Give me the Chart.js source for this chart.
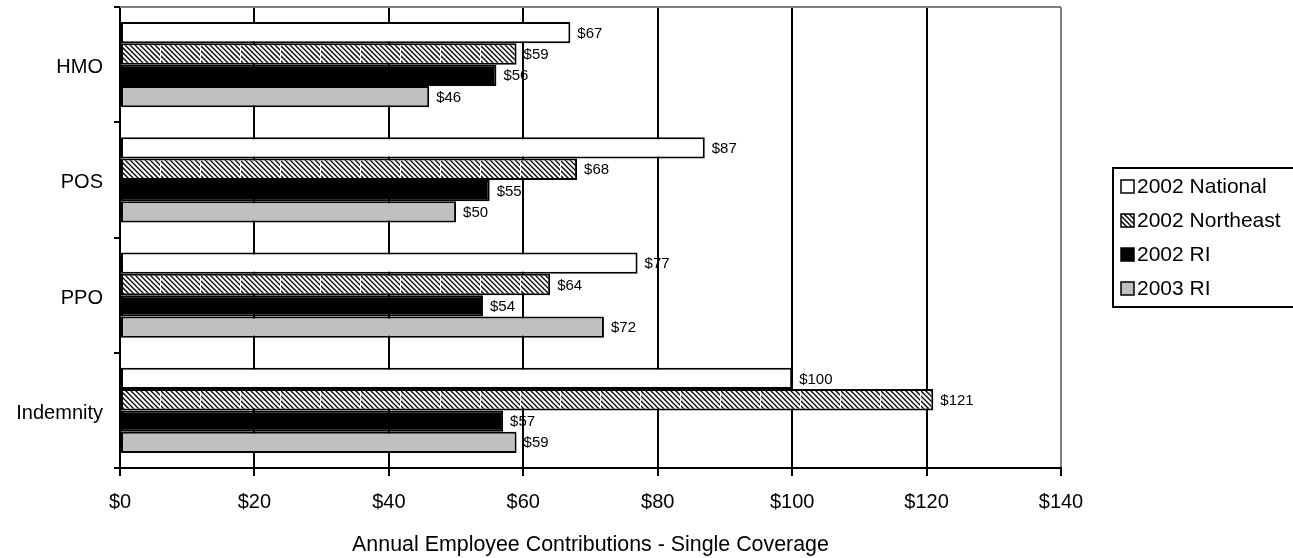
<!DOCTYPE html>
<html>
<head>
<meta charset="utf-8">
<script src="https://cdn.jsdelivr.net/npm/chart.js@4/dist/chart.umd.min.js"></script>
<style>
  html, body { margin: 0; padding: 0; background: #fff; }
  #wrap { position: relative; width: 1293px; height: 558px; }
</style>
</head>
<body>
<div id="wrap"><canvas id="planChart"></canvas></div>
<script>
const plans = ['HMO', 'POS', 'PPO', 'Indemnity'];
const seriesNames = ['2002 National', '2002 Northeast', '2002 RI', '2003 RI'];
const national2002 = [67, 87, 77, 100];
const northeast2002 = [59, 68, 64, 121];
const ri2002 = [56, 55, 54, 57];
const ri2003 = [46, 50, 72, 59];
const xTicks = [0, 20, 40, 60, 80, 100, 120, 140];
const xTitle = 'Annual Employee Contributions - Single Coverage';

const FONT = "'Liberation Sans', Arial, sans-serif";

// diagonal hatch used for the Northeast bars
function hatchPattern() {
  const c = document.createElement('canvas');
  c.width = 40; c.height = 40;
  const g = c.getContext('2d');
  g.fillStyle = '#fff';
  g.fillRect(0, 0, 40, 40);
  g.strokeStyle = '#000';
  g.lineWidth = 1.3;
  for (let k = -40; k <= 80; k += 5) {
    g.beginPath();
    g.moveTo(k - 2, -2);
    g.lineTo(k + 42, 42);
    g.stroke();
  }
  g.fillStyle = '#fff';
  g.fillRect(0, 0, 1, 40);
  return g.createPattern(c, 'repeat');
}

const hatch = hatchPattern();
const fills = ['#ffffff', hatch, '#000000', '#c0c0c0'];
const values = [national2002, northeast2002, ri2002, ri2003];

// value labels to the right of each bar
const valueLabels = {
  id: 'valueLabels',
  afterDatasetsDraw(chart) {
    const ctx = chart.ctx;
    ctx.save();
    ctx.font = `15px ${FONT}`;
    ctx.fillStyle = '#000';
    ctx.textAlign = 'left';
    ctx.textBaseline = 'middle';
    chart.data.datasets.forEach((ds, i) => {
      chart.getDatasetMeta(i).data.forEach((bar, j) => {
        ctx.fillText('$' + ds.data[j], bar.x + 7, bar.y + 1);
      });
    });
    ctx.restore();
  }
};

// grey top edge of the plot area
const plotFrame = {
  id: 'plotFrame',
  beforeDatasetsDraw(chart) {
    const { ctx, chartArea: a } = chart;
    ctx.save();
    ctx.strokeStyle = '#808080';
    ctx.lineWidth = 2;
    ctx.beginPath();
    ctx.moveTo(a.left, a.top);
    ctx.lineTo(a.right, a.top);
    ctx.stroke();
    ctx.restore();
  }
};

// boxed legend on the right
const boxLegend = {
  id: 'boxLegend',
  afterDraw(chart) {
    const ctx = chart.ctx;
    const left = 1113, top = 168, bottom = 307;
    ctx.save();
    ctx.strokeStyle = '#000';
    ctx.lineWidth = 2;
    ctx.strokeRect(left, top, 200, bottom - top);
    ctx.font = `21px ${FONT}`;
    ctx.textAlign = 'left';
    ctx.textBaseline = 'middle';
    chart.data.datasets.forEach((ds, i) => {
      const y = 186 + i * 34;
      ctx.fillStyle = ds.backgroundColor;
      ctx.fillRect(1121, y - 6, 13, 13);
      ctx.lineWidth = 1.5;
      ctx.strokeStyle = '#000';
      ctx.strokeRect(1121, y - 6, 13, 13);
      ctx.fillStyle = '#000';
      ctx.fillText(ds.label, 1137, y + 1);
    });
    ctx.restore();
  }
};

new Chart(document.getElementById('planChart'), {
  type: 'bar',
  data: {
    labels: plans,
    datasets: seriesNames.map((name, i) => ({
      label: name,
      data: values[i],
      backgroundColor: fills[i],
      borderColor: '#000',
      borderWidth: 2,
      borderSkipped: false,
      categoryPercentage: 0.74,
      barPercentage: 1
    }))
  },
  options: {
    indexAxis: 'y',
    responsive: true,
    maintainAspectRatio: false,
    animation: false,
    layout: { padding: { top: 7, right: 232, bottom: 0, left: 0 } },
    plugins: {
      legend: { display: false },
      tooltip: { enabled: false }
    },
    scales: {
      x: {
        min: 0,
        max: 140,
        afterBuildTicks: scale => { scale.ticks = xTicks.map(v => ({ value: v })); },
        afterFit: scale => { scale.height = 90; },
        border: { display: true, color: '#000', width: 2 },
        grid: {
          color: c => (c.tick && c.tick.value === 140 ? '#808080' : '#000'),
          lineWidth: 2,
          tickColor: '#000',
          tickLength: 8
        },
        ticks: {
          color: '#000',
          font: { family: FONT, size: 20 },
          padding: 14,
          callback: v => '$' + v
        },
        title: {
          display: true,
          text: xTitle,
          color: '#000',
          font: { family: FONT, size: 21.4 },
          padding: { top: 0, bottom: 0 }
        }
      },
      y: {
        afterFit: scale => {
          scale.width = 120;
          scale.paddingTop = 0;
          scale.paddingBottom = 0;
        },
        border: { display: true, color: '#000', width: 2 },
        grid: {
          drawOnChartArea: false,
          color: '#000',
          lineWidth: 2,
          tickLength: 6
        },
        ticks: {
          color: '#000',
          font: { family: FONT, size: 20 },
          padding: 11,
          labelOffset: 3
        }
      }
    }
  },
  plugins: [plotFrame, valueLabels, boxLegend]
});
</script>
</body>
</html>
